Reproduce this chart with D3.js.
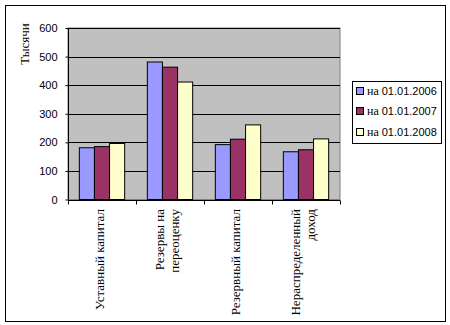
<!DOCTYPE html>
<html><head><meta charset="utf-8">
<script src="https://cdn.jsdelivr.net/npm/d3@7"></script>
<style>body{margin:0;background:#fff}svg{display:block}</style>
</head><body>
<svg id="c" width="450" height="325"></svg>
<script>
const categories = [["Уставный капитал"], ["Резервы на", "переоценку"], ["Резервный капитал"], ["Нераспределенный", "доход"]];
const seriesNames = ["на 01.01.2006", "на 01.01.2007", "на 01.01.2008"];
const values2006 = [181, 481, 192, 167];
const values2007 = [185, 463, 211, 174];
const values2008 = [196, 411, 261, 212];
const yTicks = [0, 100, 200, 300, 400, 500, 600];
const colors = ["#9999FF", "#993366", "#FFFFCC"];
const yTitle = "Тысячи";

const series = [values2006, values2007, values2008];
const svg = d3.select("#c");
const serif = "'Liberation Serif','DejaVu Serif',serif";
const sans = "'Liberation Sans',Arial,sans-serif";

svg.append("rect").attr("x",5.5).attr("y",5.5).attr("width",440).attr("height",316)
  .attr("fill","#fff").attr("stroke","#000");

const L = 68, R = 340, T = 28, B = 199.5;
const x = d3.scaleBand().domain(d3.range(categories.length)).range([L, R]).padding(0);
const xs = d3.scaleBand().domain(d3.range(series.length)).range([0, x.bandwidth()]).paddingInner(0).paddingOuter(0.75);
const y = d3.scaleLinear().domain([0, 600]).range([B, T]);

svg.append("rect").attr("x",L).attr("y",T).attr("width",R-L).attr("height",B-T)
  .attr("fill","#C0C0C0").attr("stroke","#808080");

svg.append("g").selectAll("line").data(yTicks.filter(d=>d>0)).join("line")
  .attr("x1",L).attr("x2",R).attr("y1",d=>Math.round(y(d))+0.5).attr("y2",d=>Math.round(y(d))+0.5)
  .attr("stroke","#000");

series.forEach((vals, si) => {
  svg.append("g").selectAll("rect").data(vals).join("rect")
    .attr("x",(d,i)=>x(i)+xs(si)).attr("width",xs.bandwidth())
    .attr("y",d=>y(d)).attr("height",d=>y(0)-y(d))
    .attr("fill",colors[si]).attr("stroke","#000");
});

const yAxis = d3.axisLeft(y).tickValues(yTicks).tickSize(3).tickPadding(8);
const gy = svg.append("g").attr("transform",`translate(${L+0.5},0)`).call(yAxis);
gy.select(".domain").attr("stroke","#000").attr("d",`M-0,${T}V${B}`);
gy.selectAll(".tick line").attr("stroke","#000");
gy.selectAll("text").attr("font-family",sans).attr("font-size",11).attr("fill","#000");

const xb = d3.scaleLinear().domain([0, categories.length]).range([L, R]);
const gx = svg.append("g").attr("transform",`translate(0,${Math.round(B)+0.5})`);
gx.append("line").attr("x1",L).attr("x2",R).attr("stroke","#000");
gx.selectAll("line.t").data(d3.range(categories.length+1)).join("line").attr("class","t")
  .attr("x1",d=>Math.round(xb(d))+0.5).attr("x2",d=>Math.round(xb(d))+0.5).attr("y1",0).attr("y2",4).attr("stroke","#000");

categories.forEach((lines, ci) => {
  const cx = x(ci) + x.bandwidth()/2;
  const n = lines.length;
  lines.forEach((ln, li) => {
    const bx = cx + (li - (n-1)/2)*15 + 1.5;
    svg.append("text").attr("transform",`translate(${bx},${209}) rotate(-90)`)
      .attr("text-anchor","end").style("font-family",serif).attr("font-size",13).attr("fill","#000")
      .text(ln);
  });
});

svg.append("text").attr("transform","translate(29,44) rotate(-90)").attr("text-anchor","middle")
  .style("font-family",serif).attr("font-size",13).attr("fill","#000").text(yTitle);

const lg = svg.append("g");
lg.append("rect").attr("x",352.5).attr("y",81.5).attr("width",89).attr("height",62).attr("fill","#fff").attr("stroke","#000");
seriesNames.forEach((nm, i) => {
  const cy = 91 + i*20.3;
  lg.append("rect").attr("x",356.5).attr("y",Math.round(cy-4)+0.5).attr("width",7).attr("height",7)
    .attr("fill",colors[i]).attr("stroke","#000");
  const t = lg.append("text").attr("x",367).attr("y",cy+4).attr("fill","#000");
  const parts = nm.split(" ");
  t.append("tspan").style("font-family",serif).attr("font-size",12).text(parts[0] + " ");
  t.append("tspan").style("font-family",sans).attr("font-size",11).text(parts.slice(1).join(" "));
});
</script>
</body></html>
